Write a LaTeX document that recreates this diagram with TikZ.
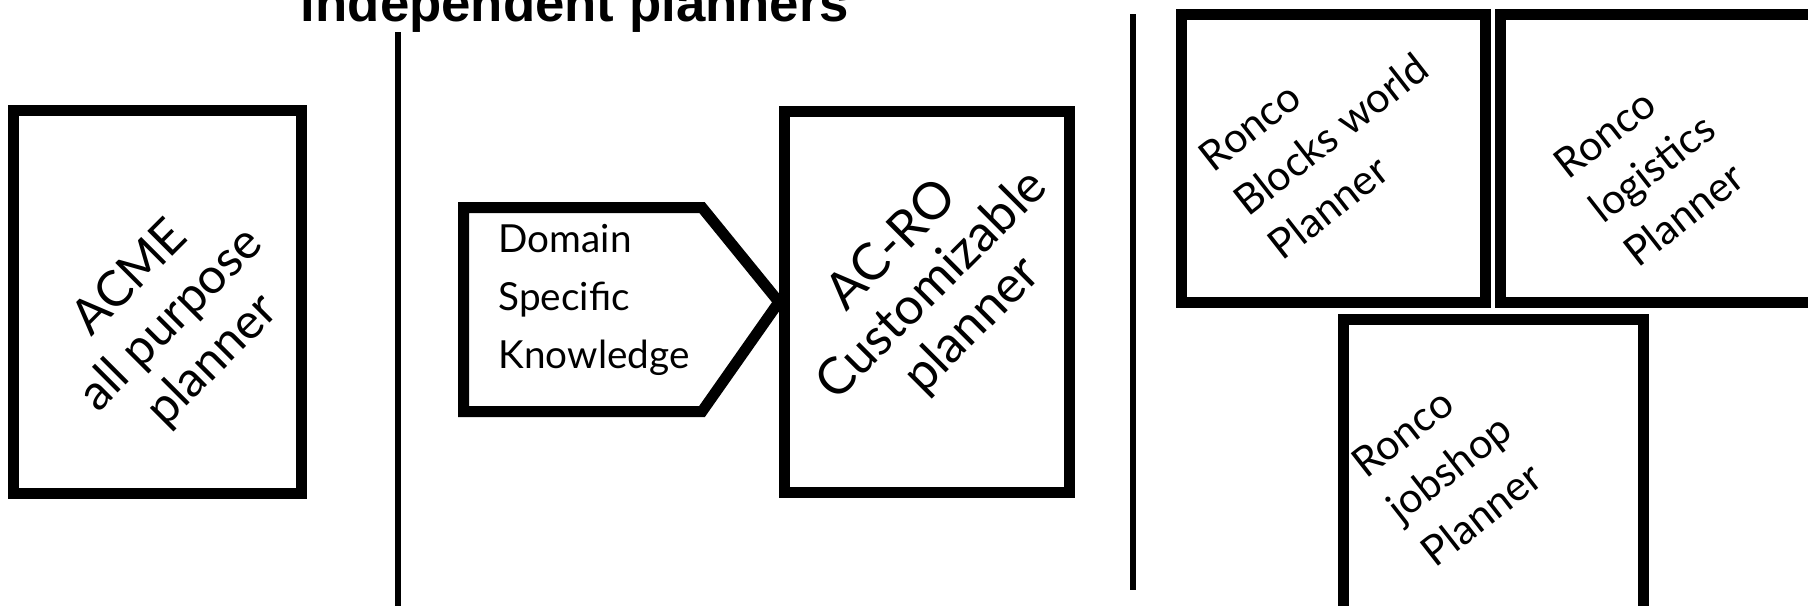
\documentclass[tikz,border=0pt]{standalone}
\usepackage{fontspec}
\setmainfont{Lato}
\newfontfamily\headfont{Liberation Sans}
\usetikzlibrary{positioning}

\tikzset{
    planbox/.style={draw, line width=0.11cm, inner sep=0pt},
    divider/.style={line width=0.06cm},
    tilted/.style={rotate=#1, inner sep=0pt},
}

\begin{document}
\begin{tikzpicture}[x=0.01cm, y=-0.01cm]
    \useasboundingbox (0,0) rectangle (1808,605);

    % heading, partly cut by the page
    \node[anchor=base, font=\headfont\bfseries\fontsize{15}{18}\selectfont] (title) at (575,21) {independent planners};

    % separators
    \draw[divider] (398,32) -- (398,615);
    \draw[divider] (1133,14) -- (1133,590);

    % general planner
    \node[planbox, minimum width=2.88cm, minimum height=3.83cm] (acme) at (157.5,302) {};
    \node[tilted=45, align=center, font=\fontsize{14}{16.5}\selectfont] (acmetxt) at (172,320)
        {ACME\\all purpose\\planner};

    % domain knowledge feeding the customizable planner
    \node[planbox, minimum width=2.85cm, minimum height=3.81cm] (acro) at (927,302) {};
    \draw[line width=0.11cm] (463.5,207.5) -- (702,207.5) -- (acro.west) -- (702,411.5) -- (463.5,411.5) -- cycle;
    \node[anchor=west, align=left, inner sep=0pt, font=\fontsize{11}{16.5}\selectfont] (dsk) at (498,300)
        {Domain\\Specific\\Knowledge};
    \node[tilted=45, align=center, font=\fontsize{14.5}{16}\selectfont] (acrotxt) at (933,286)
        {AC-RO\\Customizable\\planner};

    % domain dependent planners
    \node[planbox, minimum width=3.04cm, minimum height=2.88cm] (blocks) at (1333.5,158.5) {};
    \node[planbox, minimum width=3.2cm, minimum height=2.88cm, right=0.04cm of blocks] (logist) {};
    \node[planbox, minimum width=3.0cm, minimum height=3.0cm] (jobshop) at (1493.5,469.5) {};

    \node[tilted=38, align=left, font=\fontsize{11.8}{16}\selectfont] (blockstxt) at (1331,134)
        {Ronco\\Blocks world\\Planner};
    \node[tilted=38, align=left, font=\fontsize{11.8}{16}\selectfont] (logisttxt) at (1652,168)
        {Ronco\\logistics\\Planner};
    \node[tilted=38, align=left, font=\fontsize{11.8}{16}\selectfont] (jobshoptxt) at (1449,468)
        {Ronco\\jobshop\\Planner};
\end{tikzpicture}
\end{document}
